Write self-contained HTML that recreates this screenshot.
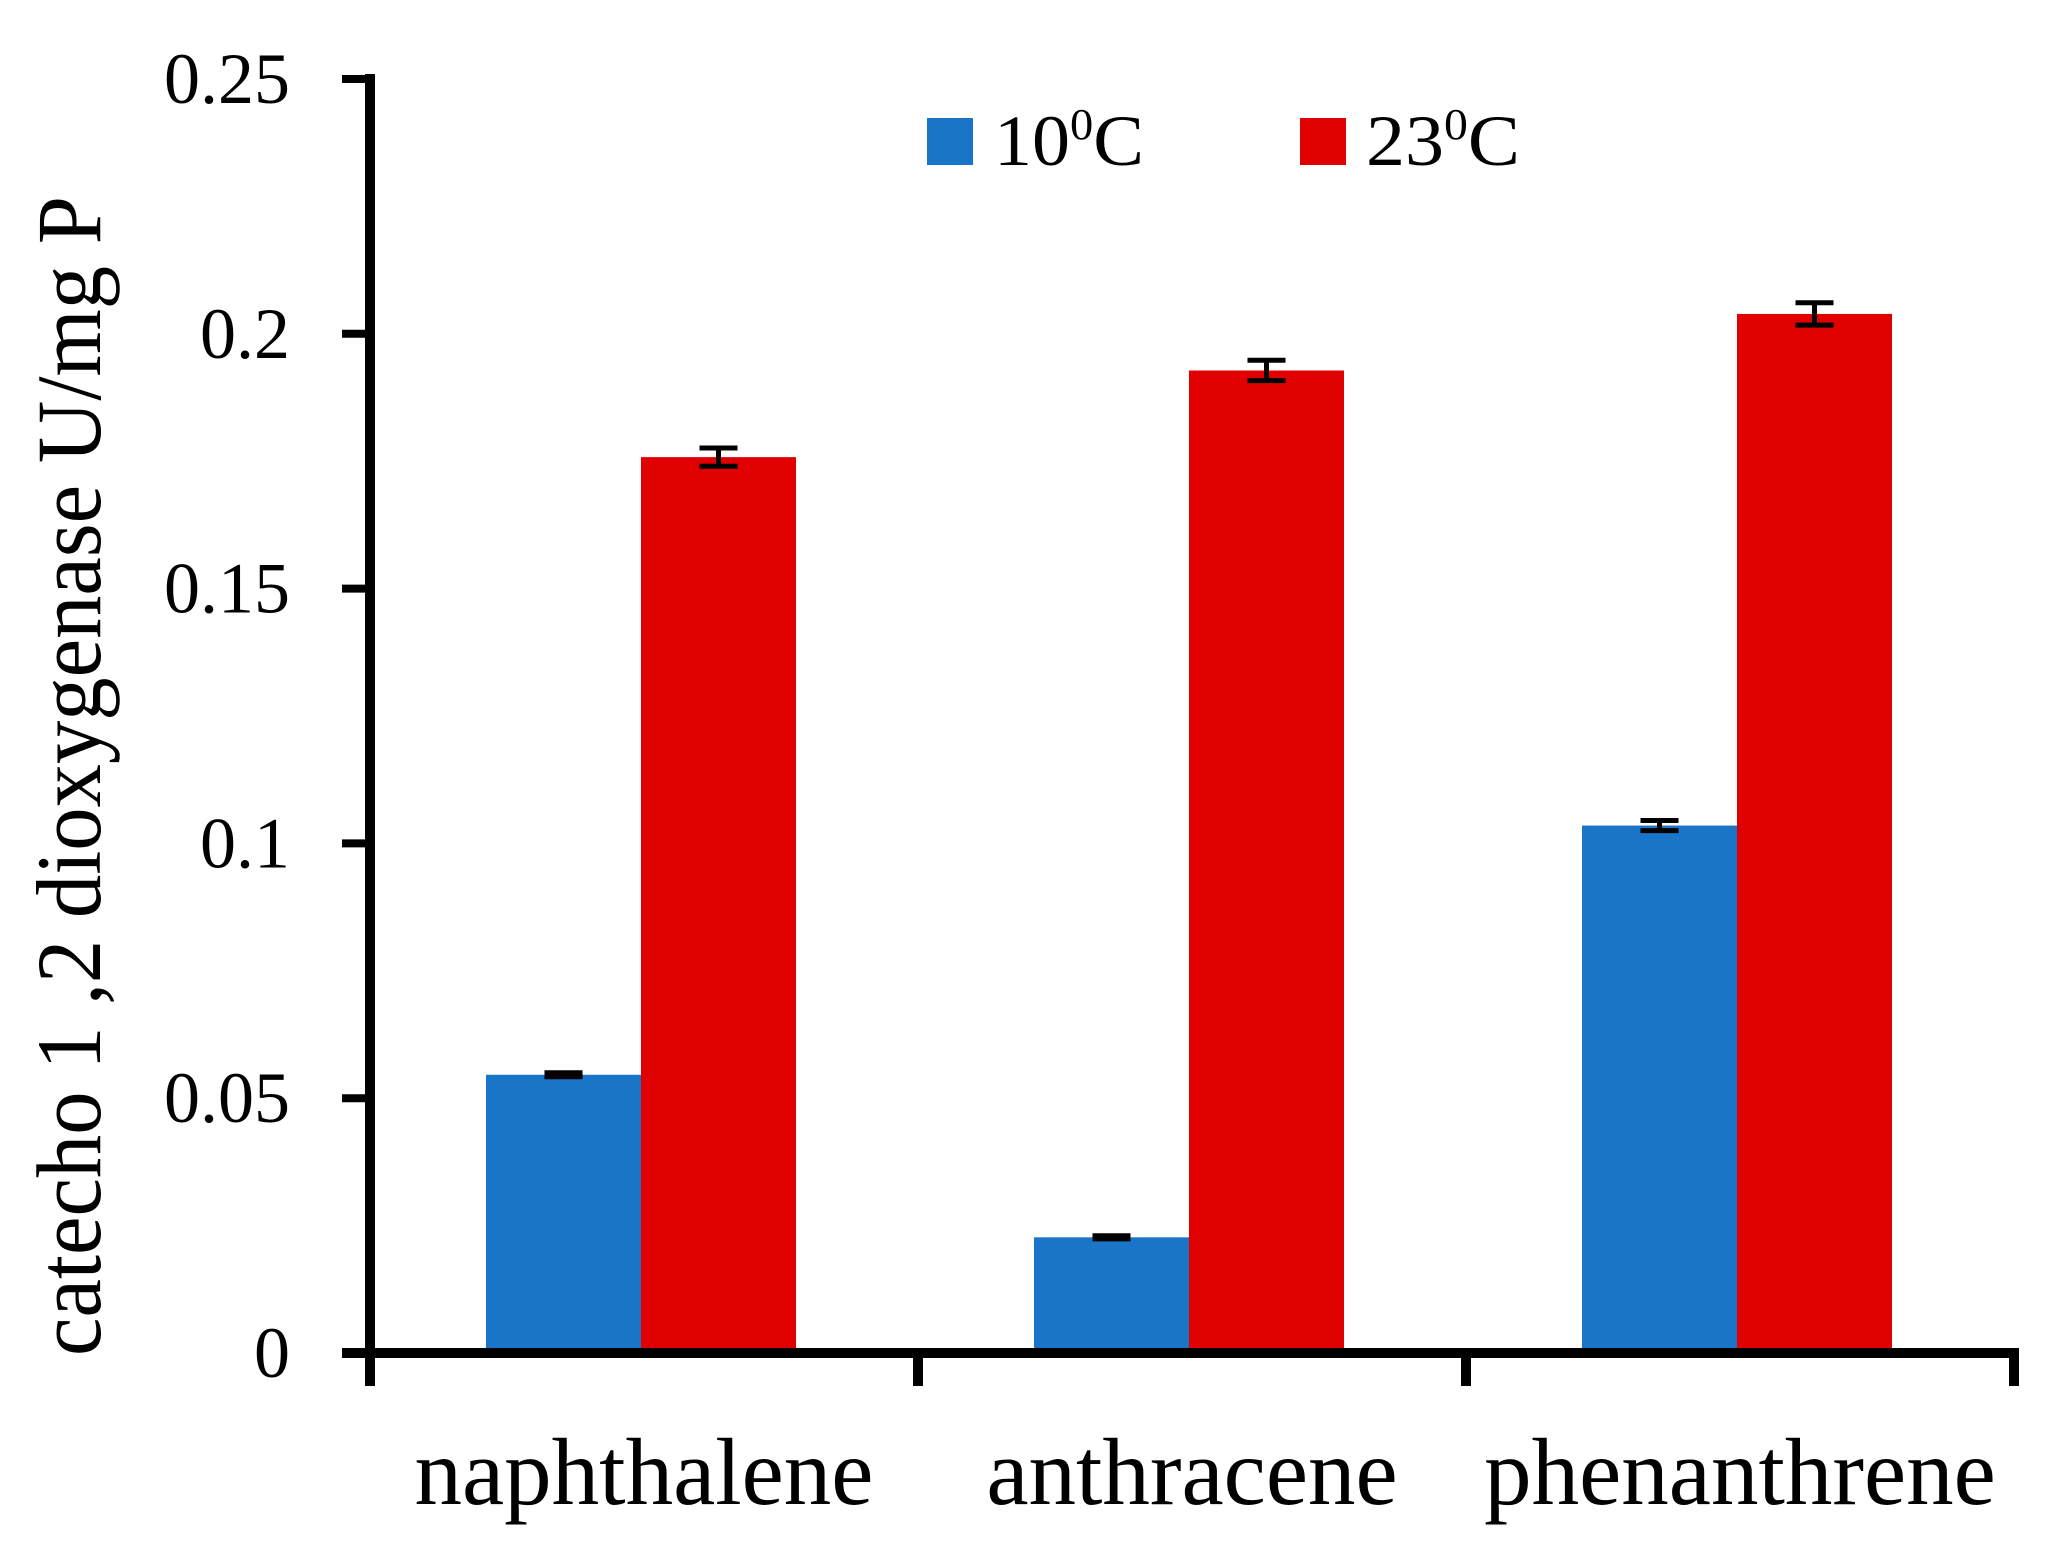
<!DOCTYPE html>
<html><head><meta charset="utf-8"><style>
html,body{margin:0;padding:0;background:#fff;}
svg{display:block;}
text{font-family:"Liberation Serif",serif;fill:#000;}
</style></head><body>
<svg id="chart" width="2057" height="1558" viewBox="0 0 2057 1558" xmlns="http://www.w3.org/2000/svg">
<g id="bars"></g>
<g id="axes"></g>
<g>
  <rect x="927" y="118" width="46" height="47" fill="#1a75c8"/>
  <text x="994" y="165" font-size="72" textLength="150" lengthAdjust="spacingAndGlyphs">10<tspan font-size="44" dy="-26">0</tspan><tspan dy="26">C</tspan></text>
  <rect x="1300" y="118" width="46" height="47" fill="#e00000"/>
  <text x="1366" y="165" font-size="72" textLength="154" lengthAdjust="spacingAndGlyphs">23<tspan font-size="44" dy="-26">0</tspan><tspan dy="26">C</tspan></text>
</g>
<text transform="translate(100,776) rotate(-90)" text-anchor="middle" font-size="92" textLength="1160" lengthAdjust="spacingAndGlyphs" x="0" y="0">catecho 1 ,2 dioxygenase U/mg P</text>
</svg>
<script>
const categories = ["naphthalene","anthracene","phenanthrene"];
const values10 = [0.0546, 0.0227, 0.1035];
const values23 = [0.1758, 0.1928, 0.2039];
const err10 = [0.0004, 0.0003, 0.001];
const err23 = [0.0018, 0.002, 0.0022];
const yTicks = [0, 0.05, 0.1, 0.15, 0.2, 0.25];
const yTickLabels = ["0","0.05","0.1","0.15","0.2","0.25"];

const NS = "http://www.w3.org/2000/svg";
const X0 = 370, CATW = 548, Y0 = 1353, YMAX = 0.25, PLOTH = 1274;
const y = v => Y0 - v / YMAX * PLOTH;
const xCat = i => X0 + i * CATW;
const BAROFF = 116, BARW = 155;
function mk(tag, attrs){const e=document.createElementNS(NS,tag);for(const k in attrs)e.setAttribute(k,attrs[k]);return e;}
const bars = document.getElementById('bars');
const axes = document.getElementById('axes');
const series = [{v:values10,e:err10,c:"#1a75c8",n:"10c"},{v:values23,e:err23,c:"#e00000",n:"23c"}];
categories.forEach((cat,i)=>{
  series.forEach((s,j)=>{
    const x = xCat(i) + BAROFF + j*BARW;
    const r = mk('rect',{x:x,y:y(s.v[i]),width:BARW,height:Y0-y(s.v[i]),fill:s.c});
    
    
    bars.appendChild(r);
    const cx = x + BARW/2, hi = y(s.v[i]+s.e[i]), lo = y(s.v[i]-s.e[i]);
    const g = mk('g',{stroke:"#000","stroke-width":5});
    
    
    g.appendChild(mk('line',{x1:cx,x2:cx,y1:hi,y2:lo}));
    g.appendChild(mk('line',{x1:cx-19,x2:cx+19,y1:hi,y2:hi}));
    g.appendChild(mk('line',{x1:cx-19,x2:cx+19,y1:lo,y2:lo}));
    bars.appendChild(g);
  });
  const t = mk('text',{x:xCat(i)+CATW/2,y:1504,"font-size":95,"text-anchor":"middle"});
  
  
  t.textContent = cat;
  bars.appendChild(t);
});
const ya = mk('line',{x1:X0,x2:X0,y1:y(YMAX)-5,y2:Y0+5,stroke:"#000","stroke-width":10});


axes.appendChild(ya);
const xa = mk('line',{x1:X0-28,x2:xCat(3)+5,y1:Y0,y2:Y0,stroke:"#000","stroke-width":10});


axes.appendChild(xa);
yTicks.forEach((v,k)=>{
  const l = mk('line',{x1:X0-28,x2:X0,y1:y(v),y2:y(v),stroke:"#000","stroke-width":8});
  
  
  axes.appendChild(l);
  const t = mk('text',{x:290,y:y(v)+24,"font-size":72,"text-anchor":"end"});
  
  
  t.textContent = yTickLabels[k];
  axes.appendChild(t);
});
for(let i=0;i<=categories.length;i++){
  const l = mk('line',{x1:xCat(i),x2:xCat(i),y1:Y0,y2:1386,stroke:"#000","stroke-width":10});
  
  
  axes.appendChild(l);
}
</script>
</body></html>
